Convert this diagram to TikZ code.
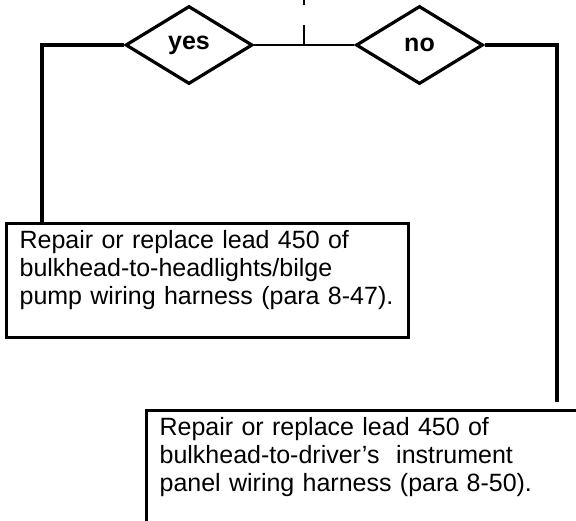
\documentclass[tikz,border=0pt]{standalone}
\usepackage{fontspec}
\setmainfont{Liberation Sans}
\usetikzlibrary{shapes.geometric}
\begin{document}
\begin{tikzpicture}[x=1pt,y=-1pt,
  dec/.style={diamond, draw, line width=3.2pt, minimum width=127pt, minimum height=78pt, inner sep=0pt, font=\bfseries\fontsize{25}{28}\selectfont},
  boxnode/.style={draw, line width=3.2pt, anchor=north west, align=left, inner xsep=13pt, inner ysep=7pt, font=\fontsize{25}{28}\selectfont},
  wire/.style={line width=3.2pt},
  thinwire/.style={line width=2.2pt},
  ]
\useasboundingbox (0,0) rectangle (576,520);
\clip (0,0) rectangle (576,520);

\node[dec] (yes) at (189,45) {yes};
\node[dec] (no) at (419.5,45) {no};

\node[boxnode, text width=376pt] (box1) at (5,222)
  {\makebox[345pt][s]{Repair or replace lead 450 of}\\ \mbox{bulkhead-to-headlights/bilge}\\ \mbox{pump wiring harness (para 8-47).}\rule[-26pt]{0pt}{26pt}};
\node[boxnode, text width=440pt] (box2) at (145,409)
  {\makebox[349pt][s]{Repair or replace lead 450 of}\\ \mbox{bulkhead-to-driver’s\ \ instrument}\\ \mbox{panel wiring harness (para 8-50).}\rule[-60pt]{0pt}{60pt}};

\coordinate (t0) at (304,0);
\coordinate (t1) at (304,5);
\coordinate (t2) at (304,25);
\coordinate (tj) at (304,45);
\coordinate (rc) at (557,402);

\draw[line width=1.5pt] (t0) -- (t1);
\draw[line width=1.5pt] (t2) -- (tj);
\draw[thinwire] (yes.east) -- (no.west);
\draw[wire] (yes.west) -| (box1.north -| 42,0);
\draw[wire] (no.east) -| (rc);
\end{tikzpicture}
\end{document}
